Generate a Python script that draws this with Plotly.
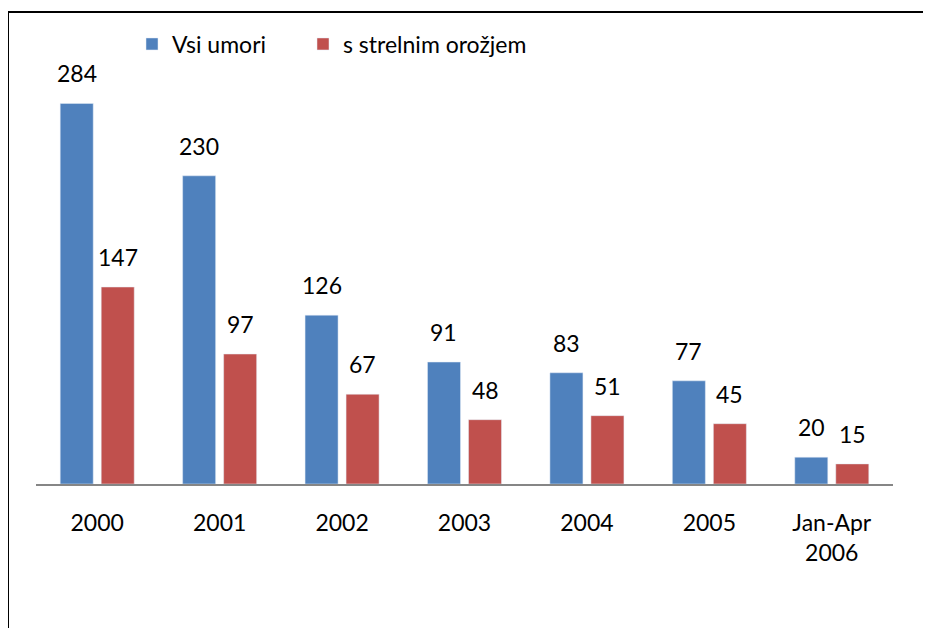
import plotly.graph_objects as go

years = ["2000", "2001", "2002", "2003", "2004", "2005", "Jan-Apr<br>2006"]
all_murders = [284, 230, 126, 91, 83, 77, 20]
gun_murders = [147, 97, 67, 48, 51, 45, 15]

fnt = dict(family="Lato, Open Sans, sans-serif", size=23, color="black")

# page body adds 8px margin, so figure is drawn 8px in from the window edge
W, H = 923, 620
L, R, T, B = 28, 38, 74, 144
plot_w = W - L - R
plot_h = H - T - B
bargap, groupgap = 0.33, 0.195

fig = go.Figure()
fig.add_trace(go.Bar(x=years, y=all_murders, name="Vsi umori", marker_color="#4F81BD",
                     legend="legend"))
fig.add_trace(go.Bar(x=years, y=gun_murders, name="s strelnim orožjem", marker_color="#C0504D",
                     legend="legend2"))

# value labels above each bar (category index as x, numeric-looking strings confuse annotations)
slot = plot_w / len(years) * (1 - bargap) / 2
for vals, sign in [(all_murders, -1), (gun_murders, 1)]:
    for i, v in enumerate(vals):
        fig.add_annotation(x=i, y=v, text=str(v), showarrow=False, font=fnt,
                           xshift=sign * slot / 2, yshift=30, yanchor="middle")

leg = dict(orientation="h", xanchor="left", y=1.0945, yanchor="middle",
           font=fnt, bgcolor="rgba(0,0,0,0)")
fig.update_layout(
    width=W, height=H,
    margin=dict(l=L, r=R, t=T, b=B),
    paper_bgcolor="white", plot_bgcolor="white",
    barmode="group", bargap=bargap, bargroupgap=groupgap,
    font=fnt, showlegend=True,
    legend=dict(leg, x=(124 - L) / plot_w),
    legend2=dict(leg, x=(295 - L) / plot_w),
)
fig.update_xaxes(type="category", showline=True, linecolor="#868686", linewidth=1.5,
                 ticks="", tickfont=fnt, showgrid=False, ticklabelstandoff=18)
fig.update_yaxes(range=[0, 300], visible=False)

# frame around the chart (only left and top edges visible in the window)
fig.add_shape(type="rect", xref="paper", yref="paper",
              x0=-L / plot_w, x1=1.2, y0=-0.6, y1=(plot_h + T - 4) / plot_h,
              line=dict(color="black", width=2), layer="above")

fig.write_html("out.html")
